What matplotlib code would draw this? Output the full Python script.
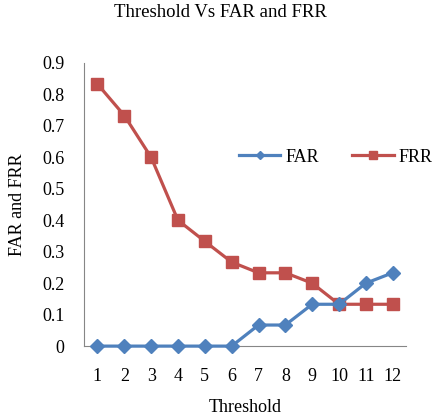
import numpy as np
import matplotlib.pyplot as plt

plt.rcParams['font.family'] = ['Liberation Serif', 'DejaVu Serif']

threshold = list(range(1, 13))
far = [0, 0, 0, 0, 0, 0, 0.067, 0.067, 0.133, 0.133, 0.2, 0.233]
frr = [0.833, 0.733, 0.6, 0.4, 0.333, 0.267, 0.233, 0.233, 0.2, 0.133, 0.133, 0.133]

fig = plt.figure(figsize=(4.4, 4.17), dpi=100)
ax = fig.add_axes([0.191, 0.170, 0.732, 0.679])

ax.plot(threshold, far, color='#4F81BD', lw=2.3, marker='D', ms=7.5, label='FAR', zorder=3)
ax.plot(threshold, frr, color='#C0504D', lw=2.3, marker='s', ms=9, label='FRR', zorder=2)

ax.set_xlim(0.5, 12.5)
ax.set_ylim(0, 0.9)
ax.set_xticks(threshold)
ax.set_yticks(np.arange(0, 0.91, 0.1))
ax.set_yticklabels(['0'] + ['%.1f' % v for v in np.arange(0.1, 0.91, 0.1)])
ax.tick_params(length=0, labelsize=13)
ax.tick_params(axis='x', pad=16)
ax.tick_params(axis='y', pad=14)
for s in ['top', 'right']:
    ax.spines[s].set_visible(False)
for s in ['left', 'bottom']:
    ax.spines[s].set_color('#868686')
for ln in ax.lines:
    ln.set_clip_on(False)

ax.set_xlabel('Threshold', fontsize=13, labelpad=10)
ax.set_ylabel('FAR and FRR', fontsize=13, labelpad=12)
fig.suptitle('Threshold Vs FAR and FRR', fontsize=13.5, y=0.99)

fig.legend(loc='center left', bbox_to_anchor=(0.543, 0.623), ncol=2, frameon=False,
           fontsize=13, handlelength=2.3, handletextpad=0.3, columnspacing=1.8,
           borderpad=0, borderaxespad=0, markerscale=0.6)

fig.savefig('out.png', dpi=100)
